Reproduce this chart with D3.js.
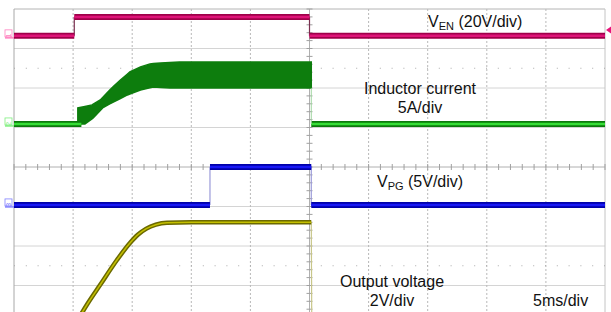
<!DOCTYPE html>
<html lang="en">
<head>
  <meta charset="UTF-8">
  <title>Soft start waveforms</title>
  <script src="https://d3js.org/d3.v7.min.js"></script>
  <style>
    html, body { margin: 0; padding: 0; background: #fff; }
    svg { display: block; }
    .lbl { font-family: Arial, "Liberation Sans", sans-serif; font-size: 16px; fill: #111; }
    .sub { font-size: 11px; }
  </style>
</head>
<body>
<svg width="611" height="312"></svg>
<script>
// time in ms (5 ms/div), values in real units
const venT = [-25, -19.9, -19.9, 0, 0, 25];
const venV = [0, 0, 9.6, 9.6, 0, 0];

// inductor current envelope (A)
const ilTopT = [-25, -19.6, -19.6, -18.4, -17.7, -16.9, -16.0, -15.2, -14.3, -13.5, -12.6, -11.0, 0.15];
const ilTopA = [0, 0, 2.03, 2.41, 3.04, 4.30, 5.57, 6.58, 7.22, 7.60, 7.72, 7.85, 7.85];
const ilBotT = [-25, -19.0, -18.3, -17.5, -16.6, -15.4, -14.3, -13.2, -11.8, 0.15];
const ilBotA = [0, 0, 0.76, 2.03, 2.78, 3.67, 4.30, 4.68, 4.56, 4.56];
const ilBeforeT = [-25, -19.3];
const ilAfterT = [0.15, 25];

const vpgT = [-25, -8.42, -8.42, 0.15, 0.15, 25];
const vpgV = [0, 0, 4.81, 4.81, 0, 0];

const voutT = [-19.67, -18.74, -17.72, -16.29, -15.19, -14.5, -13.8, -13.0, -12.06, -10, 0.15, 0.2];
const voutV = [0, 0.91, 1.82, 3.09, 3.95, 4.38, 4.68, 4.88, 4.98, 5.0, 5.0, -1.0];

// channel ground position (div) and units per div
const channels = {
  ven:  { offset: 3.32,  perDiv: 20 },
  il:   { offset: 1.09,  perDiv: 5 },
  vpg:  { offset: -0.96, perDiv: 5 },
  vout: { offset: -3.9,  perDiv: 2 }
};

const svg = d3.select("svg");
const x = d3.scaleLinear().domain([-25, 25]).range([14, 605]);
const yDiv = d3.scaleLinear().domain([-4, 4]).range([325, 9]);
const yCh = (ch, v) => yDiv(channels[ch].offset + v / channels[ch].perDiv);

// graticule
const grid = svg.append("g");
d3.range(-4, 5).forEach(d => {
  if (d === 0) return;
  grid.append("line").attr("x1", x(-25)).attr("x2", x(25))
    .attr("y1", yDiv(d)).attr("y2", yDiv(d))
    .attr("stroke", d === 4 ? "#b4b4b4" : "#d4d4d4").attr("stroke-width", 1);
});
d3.range(-25, 30, 5).forEach(t => {
  if (t === 0 || t === -25) return;
  grid.append("line").attr("x1", x(t)).attr("x2", x(t))
    .attr("y1", yDiv(4)).attr("y2", yDiv(-4))
    .attr("stroke", t === 25 ? "#c4c4c4" : "#b8b8b8")
    .attr("stroke-dasharray", t === 25 ? null : "2,2");
});
[2.5, -2.5].forEach(d => {
  grid.append("line").attr("x1", x(-25)).attr("x2", x(25))
    .attr("y1", yDiv(d)).attr("y2", yDiv(d))
    .attr("stroke", "#aaa").attr("stroke-dasharray", "1,10.8");
});
// left border and centre axes with ticks
grid.append("line").attr("x1", x(-25)).attr("x2", x(-25))
  .attr("y1", yDiv(4)).attr("y2", yDiv(-4)).attr("stroke", "#a8a8a8");
grid.append("line").attr("x1", x(0)).attr("x2", x(0))
  .attr("y1", yDiv(4)).attr("y2", yDiv(-4)).attr("stroke", "#b0b0b0");
grid.append("line").attr("x1", x(-25)).attr("x2", x(25))
  .attr("y1", yDiv(0)).attr("y2", yDiv(0)).attr("stroke", "#b0b0b0");
d3.range(-4, 4.01, 0.2).forEach(d => {
  grid.append("line").attr("x1", x(0) - 3).attr("x2", x(0) + 3)
    .attr("y1", yDiv(d)).attr("y2", yDiv(d)).attr("stroke", "#a0a0a0");
});
d3.range(-25, 25.01, 1).forEach(t => {
  grid.append("line").attr("x1", x(t)).attr("x2", x(t))
    .attr("y1", yDiv(0) - 3).attr("y2", yDiv(0) + 3).attr("stroke", "#a0a0a0");
});

const zip = (a, b) => a.map((v, i) => [v, b[i]]);

// thick runs between fast edges, thin line for the edges
function trace(ch, pts, outer, inner, edge, wo, wi, curve) {
  const ln = d3.line().x(d => x(d[0])).y(d => yCh(ch, d[1])).curve(curve || d3.curveLinear);
  const runs = [];
  let cur = [pts[0]];
  for (let i = 1; i < pts.length; i++) {
    const dx = Math.abs(x(pts[i][0]) - x(pts[i - 1][0]));
    if (dx < 1) {
      svg.append("line").attr("x1", x(pts[i - 1][0])).attr("x2", x(pts[i][0]))
        .attr("y1", yCh(ch, pts[i - 1][1])).attr("y2", yCh(ch, pts[i][1]))
        .attr("stroke", edge).attr("stroke-width", 1.2);
      if (cur.length > 1) runs.push(cur);
      cur = [pts[i]];
    } else {
      cur.push(pts[i]);
    }
  }
  if (cur.length > 1) runs.push(cur);
  runs.forEach(r => {
    svg.append("path").attr("d", ln(r)).attr("fill", "none")
      .attr("stroke", outer).attr("stroke-width", wo);
    svg.append("path").attr("d", ln(r)).attr("fill", "none")
      .attr("stroke", inner).attr("stroke-width", wi);
  });
}

// output voltage
trace("vout", zip(voutT, voutV), "#6b6900", "#c4c000", "#c8c68a", 4.5, 1.5, d3.curveMonotoneX);

// inductor current band
const area = d3.area().x(d => x(d[0])).y0(d => yCh("il", d[1])).y1(d => yCh("il", d[2]));
const bandT = Array.from(new Set(ilTopT.concat(ilBotT))).sort((a, b) => a - b);
const interp = (ts, vs, t) => {
  if (t <= ts[0]) return vs[0];
  for (let i = 1; i < ts.length; i++) {
    if (t <= ts[i]) {
      if (ts[i] === ts[i - 1]) return vs[i];
      return vs[i - 1] + (vs[i] - vs[i - 1]) * (t - ts[i - 1]) / (ts[i] - ts[i - 1]);
    }
  }
  return vs[vs.length - 1];
};
const bandPts = [];
bandT.forEach(t => {
  if (t < -19.6) return;
  if (t === -19.6) {
    bandPts.push([t, 0, 0]);
    bandPts.push([t, 0, 2.03]);
  } else {
    const hi = interp(ilTopT, ilTopA, t);
    bandPts.push([t, Math.min(interp(ilBotT, ilBotA, t), hi), hi]);
  }
});
svg.append("path").attr("d", area(bandPts))
  .attr("fill", "#0d7d0d").attr("stroke", "#0d7d0d").attr("stroke-width", 1.5);
trace("il", zip(ilBeforeT, [0, 0]), "#0b7a0b", "#36dd36", "#9fd59f", 6, 2.5);
trace("il", zip(ilAfterT, [0, 0]), "#0b7a0b", "#36dd36", "#9fd59f", 6, 2.5);
svg.append("line").attr("x1", x(0.15)).attr("x2", x(0.15))
  .attr("y1", yCh("il", 4.56)).attr("y2", yCh("il", 0)).attr("stroke", "#9fd59f");

// VPG
trace("vpg", zip(vpgT, vpgV), "#0000aa", "#1818f4", "#9a9ad8", 6, 2.5);
// VEN
trace("ven", zip(venT, venV), "#a0004a", "#de1478", "#7a3050", 6, 2.5);

// channel markers
const markers = [["ven", "1", "#ff7fbf"], ["il", "2", "#7fef7f"], ["vpg", "3", "#8080ff"]];
markers.forEach(([ch, n, c]) => {
  const yy = yCh(ch, 0);
  svg.append("text").attr("transform", `translate(11,${yy}) rotate(-90)`)
    .attr("text-anchor", "middle").attr("font-family", "Arial, sans-serif")
    .attr("font-size", 8).attr("fill", c).text(n);
  svg.append("rect").attr("x", 5).attr("y", yy - 6).attr("width", 7).attr("height", 7)
    .attr("fill", "none").attr("stroke", c).attr("stroke-width", 0.8);
  svg.append("line").attr("x1", 5).attr("x2", 14).attr("y1", yy + 2).attr("y2", yy + 2)
    .attr("stroke", c).attr("stroke-width", 1.5);
});
// trigger level marker
svg.append("path").attr("d", "M606,30 L611,26.5 L611,33.5 Z").attr("fill", "#e8137a");

// labels
const t1 = svg.append("text").attr("class", "lbl").attr("x", 428).attr("y", 27);
t1.append("tspan").text("V");
t1.append("tspan").attr("class", "sub").attr("dy", 3).text("EN");
t1.append("tspan").attr("dy", -3).text(" (20V/div)");

svg.append("text").attr("class", "lbl").attr("x", 420).attr("y", 94)
  .attr("text-anchor", "middle").text("Inductor current");
svg.append("text").attr("class", "lbl").attr("x", 420).attr("y", 113)
  .attr("text-anchor", "middle").text("5A/div");

const t2 = svg.append("text").attr("class", "lbl").attr("x", 377).attr("y", 187);
t2.append("tspan").text("V");
t2.append("tspan").attr("class", "sub").attr("dy", 3).text("PG");
t2.append("tspan").attr("dy", -3).text(" (5V/div)");

svg.append("text").attr("class", "lbl").attr("x", 392).attr("y", 287)
  .attr("text-anchor", "middle").text("Output voltage");
svg.append("text").attr("class", "lbl").attr("x", 392).attr("y", 306)
  .attr("text-anchor", "middle").text("2V/div");
svg.append("text").attr("class", "lbl").attr("x", 533).attr("y", 306).text("5ms/div");
</script>
</body>
</html>
